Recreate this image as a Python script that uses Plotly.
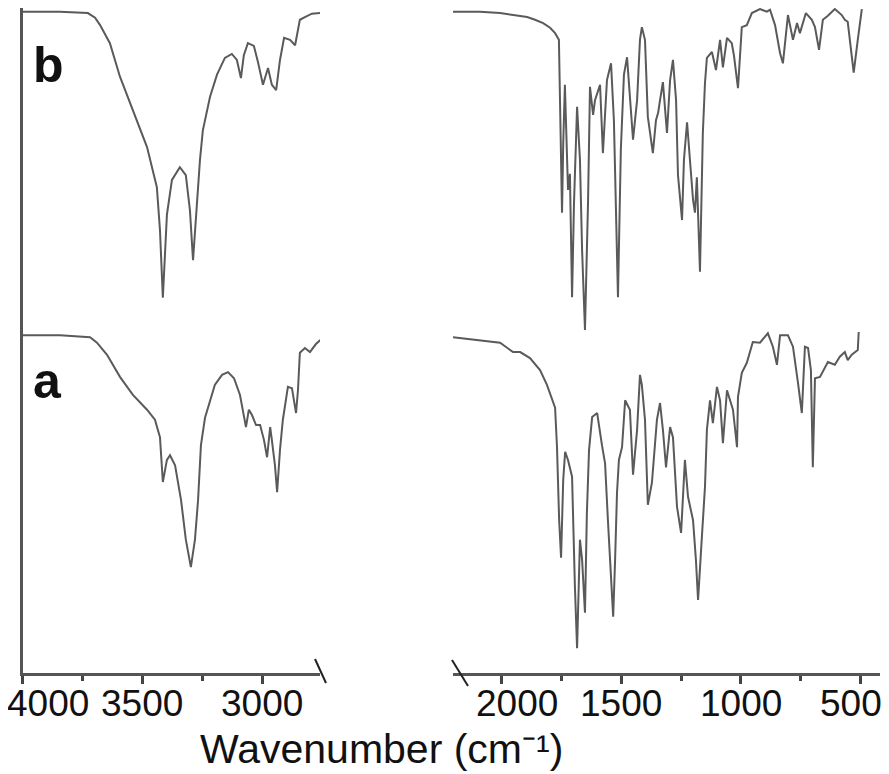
import plotly.graph_objects as go

# page is 889x774; the plot div sits 8px in from the body margin
PAGE_OFF = 8
W, H = 889 - PAGE_OFF, 774 - PAGE_OFF

# FTIR spectra, transmittance (a.u.), two wavenumber windows (broken axis)
# sample b, 4000-2750 cm-1
b_hi_wn = [4000, 3845, 3728, 3698, 3677, 3636, 3594, 3540, 3481, 3440, 3427, 3415,
           3398, 3377, 3344, 3319, 3302, 3289, 3273, 3260, 3248, 3218, 3189, 3156,
           3127, 3106, 3089, 3077, 3060, 3035, 3018, 2997, 2976, 2960, 2942, 2926,
           2909, 2884, 2863, 2843, 2822, 2793, 2759]
b_hi_t = [98.7, 98.7, 98.5, 97.8, 96.7, 94.0, 89.0, 84.0, 78.5, 72.5, 66.1, 56.0,
          68.4, 73.6, 75.5, 74.3, 69.1, 61.6, 70.6, 76.6, 81.0, 86.0, 89.3, 91.8,
          92.4, 91.5, 88.8, 92.2, 94.0, 93.6, 91.2, 87.8, 90.3, 87.8, 87.0, 91.5,
          94.8, 94.5, 93.7, 97.5, 97.9, 98.4, 98.5]

# sample b, 2200-490 cm-1
b_lo_wn = [2204, 2091, 2007, 1944, 1894, 1861, 1827, 1798, 1777, 1761, 1758, 1752,
           1748, 1743, 1736, 1723, 1715, 1706, 1698, 1685, 1673, 1664, 1652, 1639,
           1631, 1618, 1610, 1589,
           1577, 1560, 1543, 1531, 1514, 1502, 1489, 1476, 1464, 1451, 1434, 1422,
           1414, 1401, 1389, 1368, 1355, 1346, 1338, 1326, 1309, 1296, 1284, 1271,
           1263, 1246, 1238, 1225, 1213, 1200, 1192, 1184, 1171, 1159, 1150, 1142,
           1121, 1104, 1087, 1075, 1058, 1038, 1029, 1012, 996, 975, 954, 920,
           891, 878, 857, 836, 824, 803, 782, 765, 753, 728, 703, 690,
           673, 657, 636, 607, 578, 565, 553, 528, 511, 494]
b_lo_t = [98.7, 98.7, 98.5, 98.2, 97.9, 97.5, 97.0, 96.3, 95.5, 94.5, 88.2, 76.0,
          68.7, 79.0, 87.8, 72.1, 74.5, 56.1, 70.0, 84.5, 76.6, 63.1, 51.2, 70.6,
          87.5, 83.3, 85.5, 87.8,
          77.6, 88.5, 91.0, 82.5, 56.1, 78.1, 89.3, 91.9, 85.5, 79.6, 85.5, 94.5,
          96.4, 94.5, 83.0, 77.6, 82.5, 83.6, 85.5, 88.2, 80.6, 88.5, 91.5, 85.5,
          74.3, 67.6, 76.6, 82.2, 76.6, 70.6, 68.7, 74.0, 59.9, 80.6, 88.1, 91.8,
          92.7, 90.0, 94.5, 90.4, 94.8, 94.0, 92.2, 87.3, 96.4, 96.7, 98.5, 99.1,
          98.7, 99.0, 96.7, 92.5, 91.0, 98.2, 94.5, 97.0, 95.5, 98.5, 97.5, 96.4,
          93.0, 97.5, 98.1, 99.1, 98.2, 97.5, 97.2, 89.6, 94.5, 99.1]

# sample a, 4000-2750 cm-1
a_hi_wn = [4000, 3844, 3719, 3690, 3648, 3594, 3540, 3481, 3448, 3427, 3415, 3398,
           3385, 3364, 3339, 3319, 3298, 3281, 3268, 3256, 3239, 3218, 3198, 3168,
           3143, 3118, 3093, 3068, 3056, 3043, 3026, 3009, 2993, 2980, 2967, 2960,
           2947, 2938, 2926, 2914, 2893, 2876, 2859, 2851, 2843, 2822, 2801, 2776, 2751]
a_hi_t = [50.4, 50.4, 50.1, 49.3, 47.5, 44.2, 41.5, 39.3, 37.8, 35.2, 28.5, 31.8,
          32.5, 31.0, 25.8, 19.9, 15.8, 19.9, 25.8, 34.0, 38.1, 40.7, 43.0, 44.5,
          44.9, 44.0, 41.5, 36.7, 39.3, 38.5, 37.0, 37.0, 34.8, 32.2, 36.7, 34.8,
          31.0, 27.0, 33.3, 37.8, 42.7, 42.5, 38.8, 42.2, 47.8, 48.5, 47.9, 49.1, 49.9]

# sample a, 2200-490 cm-1
a_lo_wn = [2204, 2091, 2007, 1953, 1923, 1882, 1840, 1811, 1790, 1777, 1769, 1760,
           1752, 1743, 1735, 1723, 1706, 1698, 1694, 1685, 1673, 1664, 1652, 1644,
           1635, 1622, 1601, 1581, 1568, 1556, 1543, 1534, 1526, 1518, 1510, 1497,
           1484, 1464, 1451, 1434, 1422, 1414, 1401, 1389, 1372, 1351, 1338, 1326,
           1313, 1296, 1284, 1267, 1250, 1234, 1221, 1200, 1188, 1179, 1163, 1150,
           1142, 1129, 1117, 1100, 1087, 1075, 1058, 1033, 1016, 1012, 996, 975,
           950, 920, 887, 866, 849, 836, 803, 782, 761, 745, 732, 719,
           707, 699, 690, 669, 636, 607, 586, 565, 553, 536, 511, 507]
a_lo_t = [50.1, 49.7, 49.3, 47.9, 47.9, 47.0, 45.2, 43.0, 40.7, 39.6, 33.7, 22.8,
          17.2, 28.8, 33.0, 31.8, 29.3, 16.9, 12.8, 3.7, 19.9, 16.9, 9.0, 23.9,
          33.3, 38.2, 38.8, 34.0, 31.3, 22.8, 13.9, 8.4, 16.9, 26.9, 31.8, 33.7,
          40.7, 39.3, 29.6, 36.3, 44.5, 43.0, 37.8, 25.1, 28.4, 37.8, 40.3, 36.3,
          30.7, 36.7, 35.2, 24.8, 20.9, 31.8, 26.3, 22.8, 16.9, 10.9, 20.3, 27.8,
          36.3, 40.7, 37.3, 42.7, 40.7, 34.3, 42.2, 39.3, 33.7, 41.2, 44.8, 46.3,
          49.4, 49.3, 50.7, 48.7, 46.0, 50.4, 50.4, 48.7, 43.3, 38.8, 48.7, 48.5,
          45.2, 30.7, 44.0, 44.2, 46.4, 46.0, 47.2, 47.9, 46.7, 47.5, 48.2, 50.9]

left_ticks = [4000, 3500, 3000]
left_minor = [3750, 3250]
right_ticks = [2000, 1500, 1000, 500]
right_minor = [1750, 1250, 750]

FONT = "Liberation Sans, Arial, sans-serif"
LINE = "#5a5a5a"


# page pixel -> paper fraction
def px(x):
    return (x - PAGE_OFF) / W


def py(y):
    return 1 - (y - PAGE_OFF) / H


# y axis: 0 at the x-axis line (page y 673), 6.7 px per unit, top at the div edge
Y0_PAGE, Y_SCALE = 673, 6.7
y_top = (Y0_PAGE - PAGE_OFF) / Y_SCALE

fig = go.Figure()
for xs, ys, ax in [(b_hi_wn, b_hi_t, "x"), (a_hi_wn, a_hi_t, "x"),
                   (b_lo_wn, b_lo_t, "x2"), (a_lo_wn, a_lo_t, "x2")]:
    fig.add_trace(go.Scatter(x=xs, y=ys, xaxis=ax, yaxis="y", mode="lines",
                             line=dict(color=LINE, width=2), showlegend=False,
                             cliponaxis=False))

axis_common = dict(showline=True, linecolor="#555", linewidth=3, showgrid=False,
                   zeroline=False, ticks="outside", ticklen=8, tickwidth=3,
                   tickcolor="#444", showticklabels=False, anchor="y")
minor_common = dict(ticklen=5, tickwidth=3, tickcolor="#444", ticks="outside")

fig.update_layout(
    width=W, height=H,
    margin=dict(l=0, r=0, t=0, b=0),
    paper_bgcolor="white", plot_bgcolor="white",
    xaxis=dict(domain=[px(22.7), px(320)], range=[4000, 2759],
               tickvals=left_ticks, minor=dict(tickvals=left_minor, **minor_common),
               **axis_common),
    xaxis2=dict(domain=[px(453), px(880)], range=[2204, 418],
                tickvals=right_ticks, minor=dict(tickvals=right_minor, **minor_common),
                **axis_common),
    yaxis=dict(domain=[py(Y0_PAGE), 1], range=[0, y_top], showline=True,
               linecolor="#555", linewidth=2.5, showgrid=False, zeroline=False,
               showticklabels=False, ticks="", anchor="x"),
)

# tick labels (edge labels nudged inward like the original)
shift = {4000: 25, 2000: 15, 500: -9}
for ax, vals in [("x", left_ticks), ("x2", right_ticks)]:
    for v in vals:
        fig.add_annotation(x=v, xref=ax, y=py(703), yref="paper", text=str(v),
                           showarrow=False, xanchor="center", yanchor="middle",
                           xshift=shift.get(v, 0),
                           font=dict(family=FONT, size=37, color="#111"))

fig.add_annotation(x=px(381), y=py(749), xref="paper", yref="paper",
                   text="Wavenumber (cm\u207b\u00b9)", showarrow=False,
                   xanchor="center", yanchor="middle",
                   font=dict(family=FONT, size=41, color="#111"))

# spectrum labels
for lab, ymid in [("b", 65), ("a", 381)]:
    fig.add_annotation(x=px(31), y=py(ymid), xref="paper", yref="paper",
                       text="<b>%s</b>" % lab, showarrow=False,
                       xanchor="left", yanchor="middle",
                       font=dict(family=FONT, size=50, color="#111"))

# axis break marks
for x0, y0, x1, y1 in [(315, 659, 326, 683), (452, 660, 468, 686)]:
    fig.add_shape(type="line", xref="paper", yref="paper",
                  x0=px(x0), y0=py(y0), x1=px(x1), y1=py(y1),
                  line=dict(color="#222", width=2))

fig.write_html("out.html")
